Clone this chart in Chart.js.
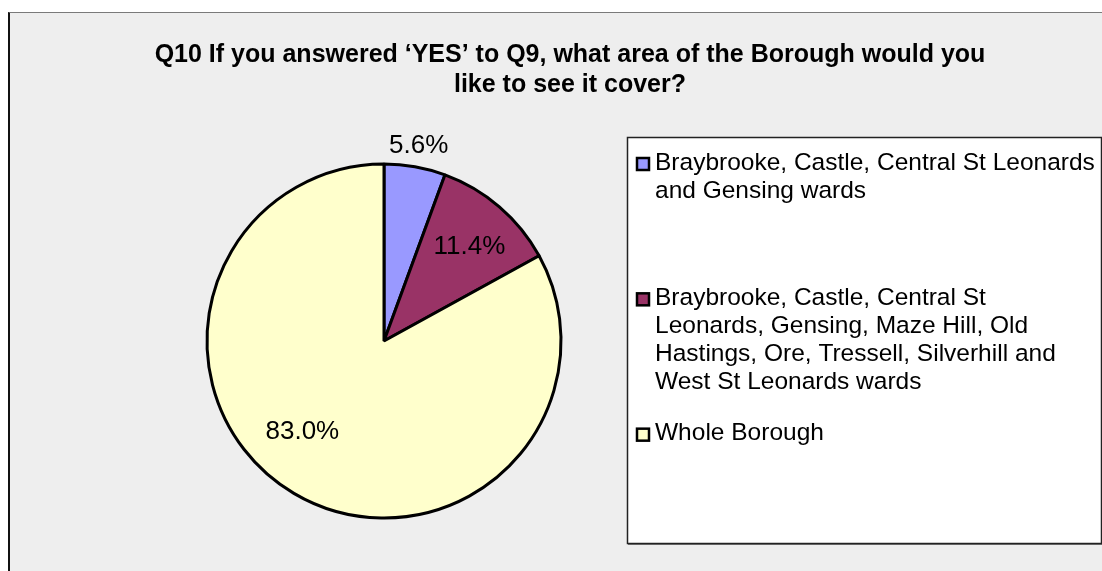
<!DOCTYPE html>
<html>
<head>
<meta charset="utf-8">
<script src="https://cdn.jsdelivr.net/npm/chart.js@4.4.1/dist/chart.umd.min.js"></script>
<style>
  html, body { margin: 0; padding: 0; background: #fff; overflow: hidden; }
  #panel {
    position: absolute; left: 8px; top: 12px; width: 1120px; height: 600px;
    background: #eeeeee; border-top: 1px solid #7a7a7a; border-left: 2px solid #111;
  }
  #wrap { position: absolute; left: 0; top: 0; width: 1102px; height: 571px; }
</style>
</head>
<body>
<div id="panel"></div>
<div id="wrap"><canvas id="grafico"></canvas></div>
<script>
// Categorias (linhas da legenda) e valores em percentagem
const categorias = [
  ['Braybrooke, Castle, Central St Leonards', 'and Gensing wards'],
  ['Braybrooke, Castle, Central St', 'Leonards, Gensing, Maze Hill, Old', 'Hastings, Ore, Tressell, Silverhill and', 'West St Leonards wards'],
  ['Whole Borough']
];
const valores = [5.6, 11.4, 83.0];
const cores = ['#9999ff', '#993366', '#ffffcc'];
const tituloLinhas = ['Q10 If you answered \u2018YES\u2019 to Q9, what area of the Borough would you', 'like to see it cover?'];

// Posição de cada rótulo: fração do ângulo dentro da fatia e fator do raio
const rotuloAngulo = [0.5, 0.535, 0.538];
const rotuloRaio = [1.12, 0.72, 0.69];

const FONTE = '"Liberation Sans", Arial, sans-serif';

// Título em duas linhas
const pluginTitulo = {
  id: 'titulo',
  afterDraw(chart) {
    const ctx = chart.ctx;
    ctx.save();
    ctx.fillStyle = '#000';
    ctx.font = 'bold 25px ' + FONTE;
    ctx.textAlign = 'center';
    ctx.textBaseline = 'middle';
    tituloLinhas.forEach((t, i) => ctx.fillText(t, 570, 55 + i * 30));
    ctx.restore();
  }
};

// Rótulos de percentagem sobre as fatias
const pluginRotulos = {
  id: 'rotulos',
  afterDatasetsDraw(chart) {
    const ctx = chart.ctx;
    const arcos = chart.getDatasetMeta(0).data;
    ctx.save();
    ctx.fillStyle = '#000';
    ctx.font = '26px ' + FONTE;
    ctx.textAlign = 'center';
    ctx.textBaseline = 'middle';
    arcos.forEach((arco, i) => {
      const { x, y, startAngle, endAngle, outerRadius } = arco.getProps(['x', 'y', 'startAngle', 'endAngle', 'outerRadius'], true);
      const ang = startAngle + (endAngle - startAngle) * rotuloAngulo[i];
      const r = outerRadius * rotuloRaio[i];
      ctx.fillText(valores[i].toFixed(1) + '%', x + Math.cos(ang) * r, y + Math.sin(ang) * r);
    });
    ctx.restore();
  }
};

// Legenda com caixa branca e texto em várias linhas
const pluginLegenda = {
  id: 'legendaCaixa',
  afterDraw(chart) {
    const ctx = chart.ctx;
    const cx = 627, cy = 137, cw = 474, ch = 406;
    ctx.save();
    ctx.fillStyle = '#7a7a7a';
    ctx.fillRect(cx + 1, cy + ch, cw, 2);
    ctx.fillStyle = '#fff';
    ctx.fillRect(cx, cy, cw, ch);
    ctx.strokeStyle = '#222';
    ctx.lineWidth = 1.5;
    ctx.strokeRect(cx + 0.5, cy + 0.5, cw, ch);

    const slot = ch / categorias.length;
    ctx.font = '24.5px ' + FONTE;
    ctx.textBaseline = 'middle';
    categorias.forEach((linhas, i) => {
      const y0 = cy + 26 + i * slot;
      ctx.fillStyle = cores[i];
      ctx.fillRect(637, y0 - 5, 12, 12);
      ctx.strokeStyle = '#000';
      ctx.lineWidth = 2.5;
      ctx.strokeRect(637, y0 - 5, 12, 12);
      ctx.fillStyle = '#000';
      linhas.forEach((l, j) => ctx.fillText(l, 655, y0 + j * 28));
    });
    ctx.restore();
  }
};

new Chart(document.getElementById('grafico'), {
  type: 'pie',
  data: {
    labels: categorias,
    datasets: [{
      data: valores,
      backgroundColor: cores,
      borderColor: '#000',
      borderWidth: 3,
      hoverOffset: 0
    }]
  },
  options: {
    responsive: true,
    maintainAspectRatio: false,
    animation: false,
    radius: 177,
    layout: { padding: { left: 204, right: 538, top: 161, bottom: 50 } },
    plugins: {
      legend: { display: false },
      title: { display: false },
      tooltip: { enabled: false }
    }
  },
  plugins: [pluginTitulo, pluginRotulos, pluginLegenda]
});
</script>
</body>
</html>
